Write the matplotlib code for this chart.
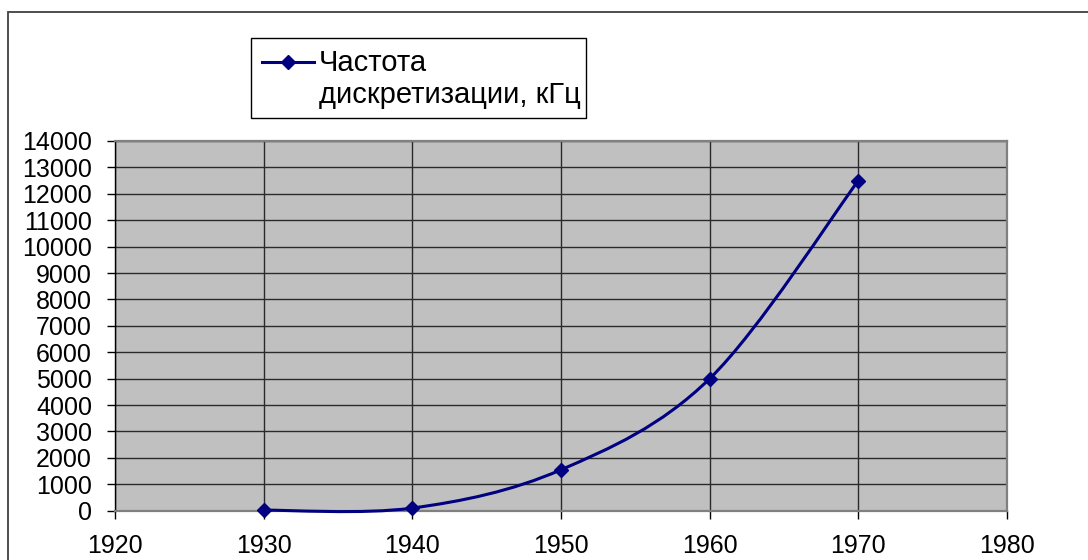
import numpy as np
import matplotlib
matplotlib.use("Agg")
import matplotlib.pyplot as plt
from matplotlib.path import Path
from matplotlib.patches import PathPatch, Rectangle
from matplotlib.lines import Line2D

#%%% data
years = [1930, 1940, 1950, 1960, 1970]
freq_khz = [20, 100, 1550, 5000, 12500]
legend_label = "Частота\nдискретизации, кГц"
x_ticks = [1920, 1930, 1940, 1950, 1960, 1970, 1980]
y_ticks = list(range(0, 14001, 1000))

plt.rcParams['font.family'] = ['Liberation Sans', 'DejaVu Sans']

W, H = 1088, 560
fig = plt.figure(figsize=(W / 100, H / 100), dpi=100)
ax = fig.add_axes([115 / W, 1 - 510.7 / H, (1007 - 115) / W, (510.7 - 141) / H])
ax.set_facecolor('#c0c0c0')

ax.set_xlim(1920, 1980)
ax.set_ylim(0, 14000)
ax.set_xticks(x_ticks)
ax.set_yticks(y_ticks)
ax.grid(True, color='#2a2a2a', linewidth=1.0)
ax.set_axisbelow(True)
ax.tick_params(axis='x', direction='out', length=6, width=1, pad=11, labelsize=18)
ax.tick_params(axis='y', direction='out', length=5.5, width=1, pad=11, labelsize=18)
for s in ['top', 'right', 'bottom']:
    ax.spines[s].set_color('#808080')
    ax.spines[s].set_linewidth(1.6)
ax.spines['left'].set_color('black')
ax.spines['left'].set_linewidth(1.0)

#%%% smoothed line like the spreadsheet one (bezier through the points)
pts = np.column_stack([years, freq_khz]).astype(float)
n = len(pts)
verts = [pts[0]]
codes = [Path.MOVETO]
for i in range(n - 1):
    p_prev = pts[max(i - 1, 0)]
    p0 = pts[i]
    p1 = pts[i + 1]
    p_next = pts[min(i + 2, n - 1)]
    c1 = p0 + (p1 - p_prev) / 6
    c2 = p1 - (p_next - p0) / 6
    verts += [c1, c2, p1]
    codes += [Path.CURVE4] * 3
curve = PathPatch(Path(verts, codes), facecolor='none', edgecolor='#000080',
                  linewidth=2.2, zorder=3, clip_on=False)
ax.add_patch(curve)
ax.plot(years, freq_khz, linestyle='none', marker='D', markersize=7.5,
        color='#000080', zorder=4, clip_on=False)

#%%% legend box drawn by hand so the handle sits on the first line
fig.add_artist(Rectangle((251 / W, 1 - 118 / H), (586 - 251) / W, (118 - 38) / H,
                         transform=fig.transFigure, facecolor='white',
                         edgecolor='black', linewidth=1.0))
fig.add_artist(Line2D([262 / W, 314 / W], [1 - 62 / H, 1 - 62 / H],
                      transform=fig.transFigure, color='#000080', linewidth=2.2))
fig.add_artist(Line2D([288 / W], [1 - 62 / H], transform=fig.transFigure,
                      color='#000080', marker='D', markersize=7.5, linestyle='none'))
fig.text(319 / W, 1 - 49 / H, legend_label, fontsize=21, va='top', ha='left',
         linespacing=1.2)

#%%% outer chart border (only top and left visible)
fig.add_artist(Rectangle((8 / W, -0.2), 1.5, 1.2 - 12 / H,
                         transform=fig.transFigure, facecolor='none',
                         edgecolor='#404040', linewidth=1.3, clip_on=False))

fig.savefig('out.png', dpi=100)
